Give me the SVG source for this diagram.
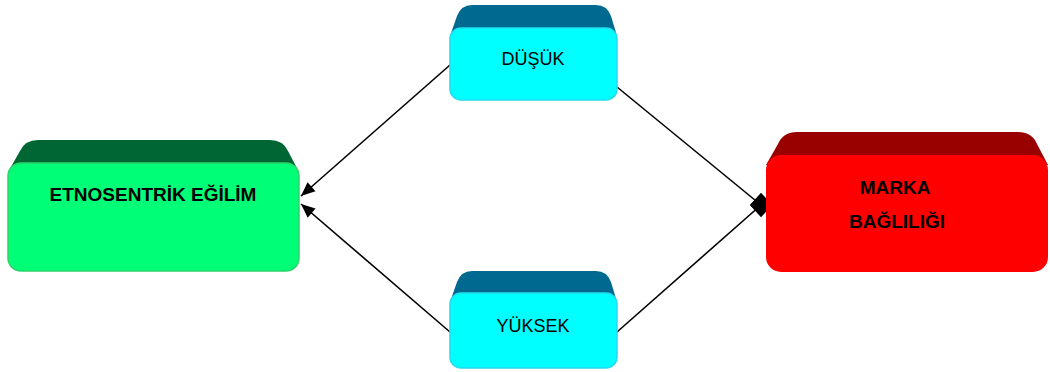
<svg xmlns="http://www.w3.org/2000/svg" width="1050" height="372" viewBox="0 0 1050 372">
<style>
.lbl{font-family:"Liberation Sans",Arial,sans-serif;fill:#000;text-anchor:middle}
.b{font-weight:bold;font-size:19px}
.r{font-size:18px}
.conn{stroke:#000;stroke-width:1.6;fill:none}
</style>
<defs>
<marker id="arrow" viewBox="0 0 14 12" refX="14" refY="6" markerWidth="14" markerHeight="12" markerUnits="userSpaceOnUse" orient="auto" overflow="visible">
<path d="M0,0 L14,6 L0,12 Z" fill="#000"/>
</marker>
<marker id="diamond" viewBox="0 0 22 24" refX="11" refY="12" markerWidth="22" markerHeight="24" markerUnits="userSpaceOnUse" orient="0" overflow="visible">
<path d="M0,12 L11,0 L22,12 L11,24 Z" fill="#000"/>
</marker>
</defs>
<g id="connectors">
<line class="conn" x1="450" y1="65" x2="301" y2="196" marker-end="url(#arrow)"/>
<line class="conn" x1="450" y1="332" x2="301" y2="204" marker-end="url(#arrow)"/>
<line class="conn" x1="617" y1="87" x2="761" y2="205" marker-end="url(#diamond)"/>
<line class="conn" x1="617" y1="332" x2="761" y2="205" marker-end="url(#diamond)"/>
</g>
<g id="etnosentrik">
<path d="M8,172 L20,151 Q25,140 38,140 L270,140 Q283,140 288,151 L299,172 Z" fill="#006633"/>
<rect x="8" y="163" width="291" height="108" rx="13" fill="#00FF77" stroke="#2DD46A" stroke-width="1.5"/>
<text class="lbl b" x="153" y="201">ETNOSENTRİK EĞİLİM</text>
</g>
<g id="dusuk">
<path d="M450,36 L457,16 Q461,5 472,5 L596,5 Q607,5 611,16 L617,36 Z" fill="#00698F"/>
<rect x="450" y="28" width="167" height="72" rx="11" fill="#00FFFF" stroke="#22DDEE" stroke-width="1.5"/>
<text class="lbl r" x="533" y="65">DÜŞÜK</text>
</g>
<g id="yuksek">
<path d="M450,302 L457,282 Q461,271 472,271 L596,271 Q607,271 611,282 L617,302 Z" fill="#00698F"/>
<rect x="450" y="293" width="167" height="75" rx="11" fill="#00FFFF" stroke="#22DDEE" stroke-width="1.5"/>
<text class="lbl r" x="533" y="332">YÜKSEK</text>
</g>
<g id="marka">
<path d="M766,165 L778,144 Q783,132 797,132 L1018,132 Q1032,132 1037,144 L1048,165 Z" fill="#990000"/>
<rect x="766" y="155" width="282" height="117" rx="15" fill="#FF0000"/>
<text class="lbl b" x="895" y="194">MARKA</text>
<text class="lbl b" x="897" y="228">BAĞLILIĞI</text>
</g>
</svg>
